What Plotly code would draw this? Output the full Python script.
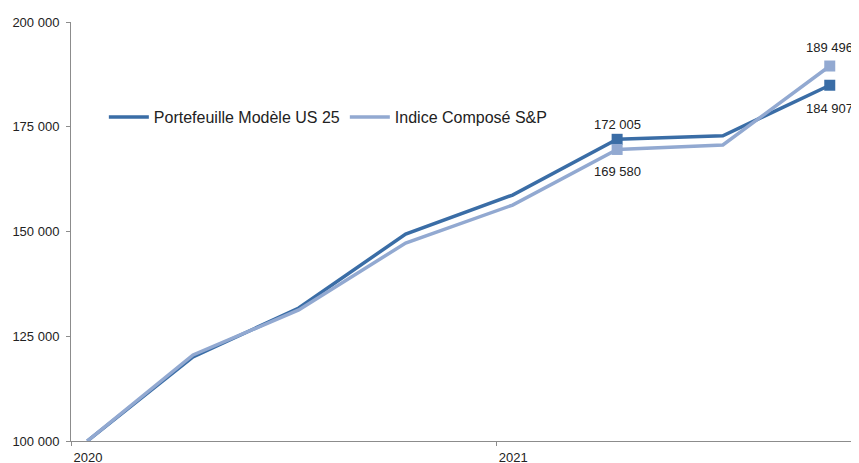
import plotly.graph_objects as go

dates = ["2020-01-15", "2020-04-15", "2020-07-15", "2020-10-15",
         "2021-01-15", "2021-04-15", "2021-07-15", "2021-10-15"]
portefeuille = [100000, 120050, 131740, 149400, 158700, 172005, 172860, 184907]
indice = [100000, 120525, 131270, 147250, 156300, 169580, 170650, 189496]
label_idx = [5, 7]

tick_vals = ["2020-01-01", "2021-01-01"]
tick_text = ["2020", "2021"]
y_ticks = [100000, 125000, 150000, 175000, 200000]

dark = "#3A6DA6"
light = "#92A9D1"
font = "Liberation Sans"


def fmt(v):
    return f"{v:,}".replace(",", " ")


fig = go.Figure()
fig.add_trace(go.Scatter(x=dates, y=portefeuille, mode="lines",
                         name="Portefeuille Modèle US 25",
                         line=dict(color=dark, width=3.5)))
fig.add_trace(go.Scatter(x=dates, y=indice, mode="lines",
                         name="Indice Composé S&P",
                         line=dict(color=light, width=3.5)))
fig.add_trace(go.Scatter(x=[dates[i] for i in label_idx],
                         y=[portefeuille[i] for i in label_idx],
                         mode="markers", showlegend=False,
                         marker=dict(symbol="square", size=11, color=dark),
                         cliponaxis=False))
fig.add_trace(go.Scatter(x=[dates[i] for i in label_idx],
                         y=[indice[i] for i in label_idx],
                         mode="markers", showlegend=False,
                         marker=dict(symbol="square", size=11, color=light),
                         cliponaxis=False))

# data labels: portefeuille above/below, indice below/above
shifts_port = [15, -23]
shifts_ind = [-22, 19]
for k, i in enumerate(label_idx):
    fig.add_annotation(x=dates[i], y=portefeuille[i], text=fmt(portefeuille[i]),
                       showarrow=False, yshift=shifts_port[k], yanchor="middle",
                       font=dict(family=font, size=13, color="#222"))
    fig.add_annotation(x=dates[i], y=indice[i], text=fmt(indice[i]),
                       showarrow=False, yshift=shifts_ind[k], yanchor="middle",
                       font=dict(family=font, size=13, color="#222"))

fig.update_layout(
    width=851, height=455,
    margin=dict(l=63, r=6, t=14, b=22),
    paper_bgcolor="white", plot_bgcolor="white",
    separators=". ",
    font=dict(family=font, size=13, color="#222"),
    legend=dict(orientation="h", x=0.042, y=0.773, xanchor="left", yanchor="middle",
                font=dict(family=font, size=16, color="#222"),
                bgcolor="rgba(0,0,0,0)", itemwidth=40),
    xaxis=dict(type="date", range=["2020-01-01", "2021-11-04"],
               tickvals=tick_vals, ticktext=tick_text, automargin=False,
               showgrid=False, zeroline=False, showline=True,
               linecolor="#8C8C8C", linewidth=1,
               ticks="outside", ticklen=4, tickcolor="#8C8C8C",
               ticklabelshift=17, ticklabelstandoff=0,
               tickfont=dict(family=font, size=13, color="#222")),
    yaxis=dict(range=[100000, 200000], tickvals=y_ticks, tickformat=",d",
               automargin=False,
               showgrid=False, zeroline=False, showline=True,
               linecolor="#8C8C8C", linewidth=1,
               ticks="outside", ticklen=4, tickcolor="#8C8C8C",
               ticklabelstandoff=4,
               tickfont=dict(family=font, size=13, color="#222")),
)

fig.write_html("out.html")
